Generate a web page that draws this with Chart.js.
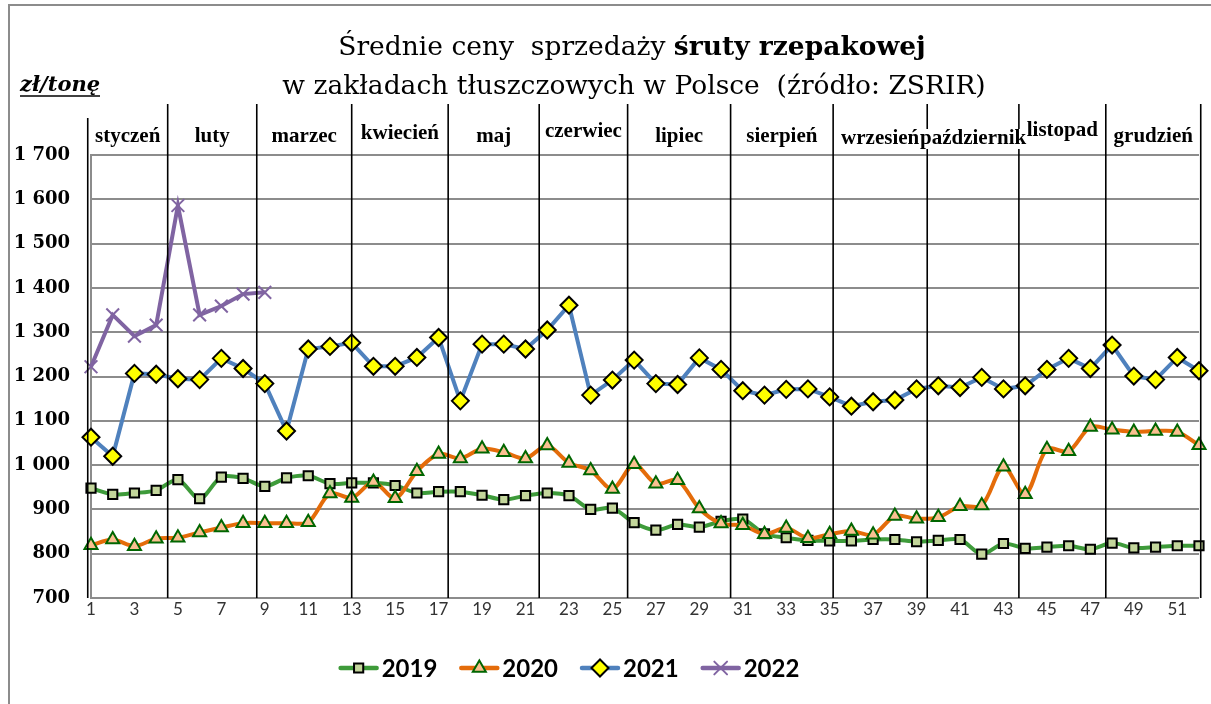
<!DOCTYPE html>
<html><head><meta charset="utf-8">
<script src="https://cdn.jsdelivr.net/npm/chart.js"></script>
<style>html,body{margin:0;padding:0;background:#fff;overflow:hidden}canvas{display:block}</style>
</head><body><canvas id="c" width="1211" height="704"></canvas>
<script>
const weeks = ['1','2','3','4','5','6','7','8','9','10','11','12','13','14','15','16','17','18','19','20','21','22','23','24','25','26','27','28','29','30','31','32','33','34','35','36','37','38','39','40','41','42','43','44','45','46','47','48','49','50','51','52'];
const months = ['styczeń','luty','marzec','kwiecień','maj','czerwiec','lipiec','sierpień','wrzesień','październik','listopad','grudzień'];
// month boundaries expressed in week numbers
const monthBounds = [0.85,4.53,8.63,13.0,17.44,21.63,25.70,30.44,35.16,39.49,43.71,47.71,52.08];
const seriesNames = ['2019','2020','2021','2022'];
const s2019 = [948,934,937,943,967,924,973,970,952,971,976,958,960,960,954,937,940,940,932,922,931,937,931,900,903,870,853,866,860,873,878,845,836,830,829,829,832,832,827,830,832,799,823,812,815,818,810,824,813,815,818,818];
const s2020 = [819,832,817,834,836,848,859,869,869,869,871,936,926,962,925,986,1025,1015,1037,1029,1015,1044,1005,988,946,1002,958,966,902,868,864,844,858,835,844,851,843,885,879,882,907,909,996,934,1036,1031,1086,1080,1075,1077,1075,1045];
const s2021 = [1063,1020,1207,1205,1195,1193,1241,1218,1184,1077,1262,1268,1276,1223,1223,1243,1288,1145,1273,1273,1262,1305,1361,1158,1192,1237,1184,1182,1242,1216,1168,1158,1171,1172,1154,1133,1143,1147,1172,1179,1175,1198,1172,1179,1216,1241,1218,1271,1201,1193,1243,1213];
const s2022 = [1222,1339,1291,1316,1586,1339,1359,1386,1390];

// small vertical nudges of the month captions (text-box placement in the original)
const monthDy = [0,0,0,-3,0,-5,0,0,2,2,-6,0];

const styles = [
  {line:'#3e9b3a', style:'rect', r:6.5, fill:'#c3d69b', stroke:'#000', bw:2, tension:0.3},
  {line:'#e46c0a', style:'triangle', r:7.5, fill:'#fac090', stroke:'#006600', bw:2, tension:0.3},
  {line:'#4f81bd', style:'rectRot', r:8.5, fill:'#ffff00', stroke:'#000', bw:2, tension:0},
  {line:'#8064a2', style:'crossRot', r:9, fill:'#8064a2', stroke:'#8064a2', bw:2, tension:0}
];
const allSeries = [s2019, s2020, s2021, s2022];

function fmt(v){ return v >= 1000 ? Math.floor(v/1000) + ' ' + String(v % 1000).padStart(3,'0') : String(v); }

function drawMarker(ctx, st, x, y){
  ctx.save();
  ctx.lineWidth = st.bw; ctx.strokeStyle = st.stroke; ctx.fillStyle = st.fill;
  const r = st.r;
  ctx.beginPath();
  if (st.style === 'rect') { const h = r*Math.SQRT1_2; ctx.rect(x-h, y-h, 2*h, 2*h); ctx.fill(); ctx.stroke(); }
  else if (st.style === 'rectRot') { ctx.moveTo(x-r,y); ctx.lineTo(x,y-r); ctx.lineTo(x+r,y); ctx.lineTo(x,y+r); ctx.closePath(); ctx.fill(); ctx.stroke(); }
  else if (st.style === 'triangle') { for (let k=0;k<3;k++){ const a = k*2*Math.PI/3; const px = x + Math.sin(a)*r, py = y - Math.cos(a)*r; k?ctx.lineTo(px,py):ctx.moveTo(px,py);} ctx.closePath(); ctx.fill(); ctx.stroke(); }
  else { const h = r*Math.SQRT1_2; ctx.moveTo(x-h,y-h); ctx.lineTo(x+h,y+h); ctx.moveTo(x+h,y-h); ctx.lineTo(x-h,y+h); ctx.stroke(); }
  ctx.restore();
}

const deco = {
  id: 'deco',
  beforeDraw(chart){
    const ctx = chart.ctx; ctx.save(); ctx.fillStyle = '#fff'; ctx.fillRect(0,0,chart.width,chart.height); ctx.restore();
  },
  afterDraw(chart){
    const ctx = chart.ctx, ca = chart.chartArea, xs = chart.scales.x;
    ctx.save();
    // outer border
    ctx.strokeStyle = '#8c8c8c'; ctx.lineWidth = 2;
    ctx.beginPath(); ctx.moveTo(9, 704); ctx.lineTo(9, 5); ctx.lineTo(1211, 5); ctx.stroke();

    // title
    ctx.fillStyle = '#000'; ctx.textBaseline = 'alphabetic';
    const f1 = '26.5px "DejaVu Serif"', f1b = 'bold 26.5px "DejaVu Serif"';
    const p1 = 'Średnie ceny  sprzedaży ', p2 = 'śruty rzepakowej';
    ctx.font = f1; const w1 = ctx.measureText(p1).width;
    ctx.font = f1b; const w2 = ctx.measureText(p2).width;
    let tx = 632 - (w1 + w2)/2;
    ctx.textAlign = 'left';
    ctx.font = f1; ctx.fillText(p1, tx, 55);
    ctx.font = f1b; ctx.fillText(p2, tx + w1, 55);
    ctx.font = f1; ctx.textAlign = 'center';
    ctx.fillText('w zakładach tłuszczowych w Polsce  (źródło: ZSRIR)', 634, 94);

    // unit label
    ctx.font = 'bold italic 21px "DejaVu Serif"'; ctx.textAlign = 'left';
    ctx.fillText('zł/tonę', 20, 91);
    const uw = ctx.measureText('zł/tonę').width;
    ctx.lineWidth = 1.5; ctx.strokeStyle = '#000';
    ctx.beginPath(); ctx.moveTo(20, 96); ctx.lineTo(20 + uw, 96); ctx.stroke();

    // month divider lines
    ctx.strokeStyle = '#000'; ctx.lineWidth = 1.6;
    monthBounds.forEach((w, i) => {
      const px = xs.getPixelForValue(w - 1);
      ctx.beginPath(); ctx.moveTo(px, i === 0 ? 118 : 104); ctx.lineTo(px, ca.bottom); ctx.stroke();
    });
    // month labels
    ctx.font = 'bold 21px "Liberation Serif"'; ctx.textAlign = 'center'; ctx.textBaseline = 'middle';
    const centers = months.map((m, i) => {
      const a = xs.getPixelForValue(monthBounds[i] - 1), b = xs.getPixelForValue(monthBounds[i+1] - 1);
      return (a + b)/2;
    });
    months.forEach((m, i) => {
      const w = ctx.measureText(m).width;
      ctx.fillStyle = '#fff';
      ctx.fillRect(centers[i] - w/2, 127 + monthDy[i], w, 20);
    });
    months.forEach((m, i) => {
      ctx.fillStyle = '#000';
      ctx.fillText(m, centers[i], 137 + monthDy[i]);
    });

    // legend
    ctx.font = 'bold 24px Lato'; ctx.textBaseline = 'middle'; ctx.textAlign = 'left';
    const segW = 40, gapT = 3, gapI = 22;
    let total = 0;
    const tw = seriesNames.map(n => ctx.measureText(n).width);
    tw.forEach((t, i) => { total += segW + gapT + t + (i < tw.length-1 ? gapI : 0); });
    let lx = 569 - total/2; const ly = 668;
    seriesNames.forEach((n, i) => {
      const st = styles[i];
      ctx.strokeStyle = st.line; ctx.lineWidth = 4.5; ctx.lineCap = 'round';
      ctx.beginPath(); ctx.moveTo(lx + 2, ly); ctx.lineTo(lx + segW - 2, ly); ctx.stroke();
      drawMarker(ctx, st, lx + segW/2, ly);
      ctx.fillStyle = '#000';
      ctx.fillText(n, lx + segW + gapT, ly + 1);
      lx += segW + gapT + tw[i] + gapI;
    });
    ctx.restore();
  }
};

const datasets = allSeries.map((d, i) => {
  const st = styles[i];
  return {
    label: seriesNames[i], data: d,
    borderColor: st.line, borderWidth: 4, tension: st.tension,
    pointStyle: st.style, pointRadius: st.r, pointHoverRadius: st.r,
    pointBackgroundColor: st.fill, pointBorderColor: st.stroke, pointBorderWidth: st.bw,
    fill: false, clip: false, order: 4 - i
  };
});

new Chart(document.getElementById('c'), {
  type: 'line',
  data: { labels: weeks, datasets },
  plugins: [deco],
  options: {
    responsive: false, animation: false,
    layout: { padding: { left: 0, right: 12, top: 155, bottom: 76 } },
    plugins: { legend: { display: false }, title: { display: false }, tooltip: { enabled: false } },
    scales: {
      x: {
        offset: false,
        grid: { display: false, drawTicks: false },
        border: { display: false },
        ticks: {
          autoSkip: false, maxRotation: 0, padding: 1, color: '#333',
          font: { family: 'Lato', size: 17 },
          callback: (v, idx) => idx % 2 === 0 ? weeks[idx] : ''
        },
        afterFit: s => { s.height = 30; }
      },
      y: {
        min: 700, max: 1700,
        grid: { color: '#8c8c8c', lineWidth: 2, drawTicks: false },
        border: { display: true, color: '#8c8c8c', width: 2 },
        ticks: { stepSize: 100, padding: 21, color: '#000', font: { family: 'DejaVu Serif', size: 18, weight: 'bold' }, callback: v => fmt(v) },
        afterFit: s => { s.width = 91; }
      }
    }
  }
});
</script></body></html>
